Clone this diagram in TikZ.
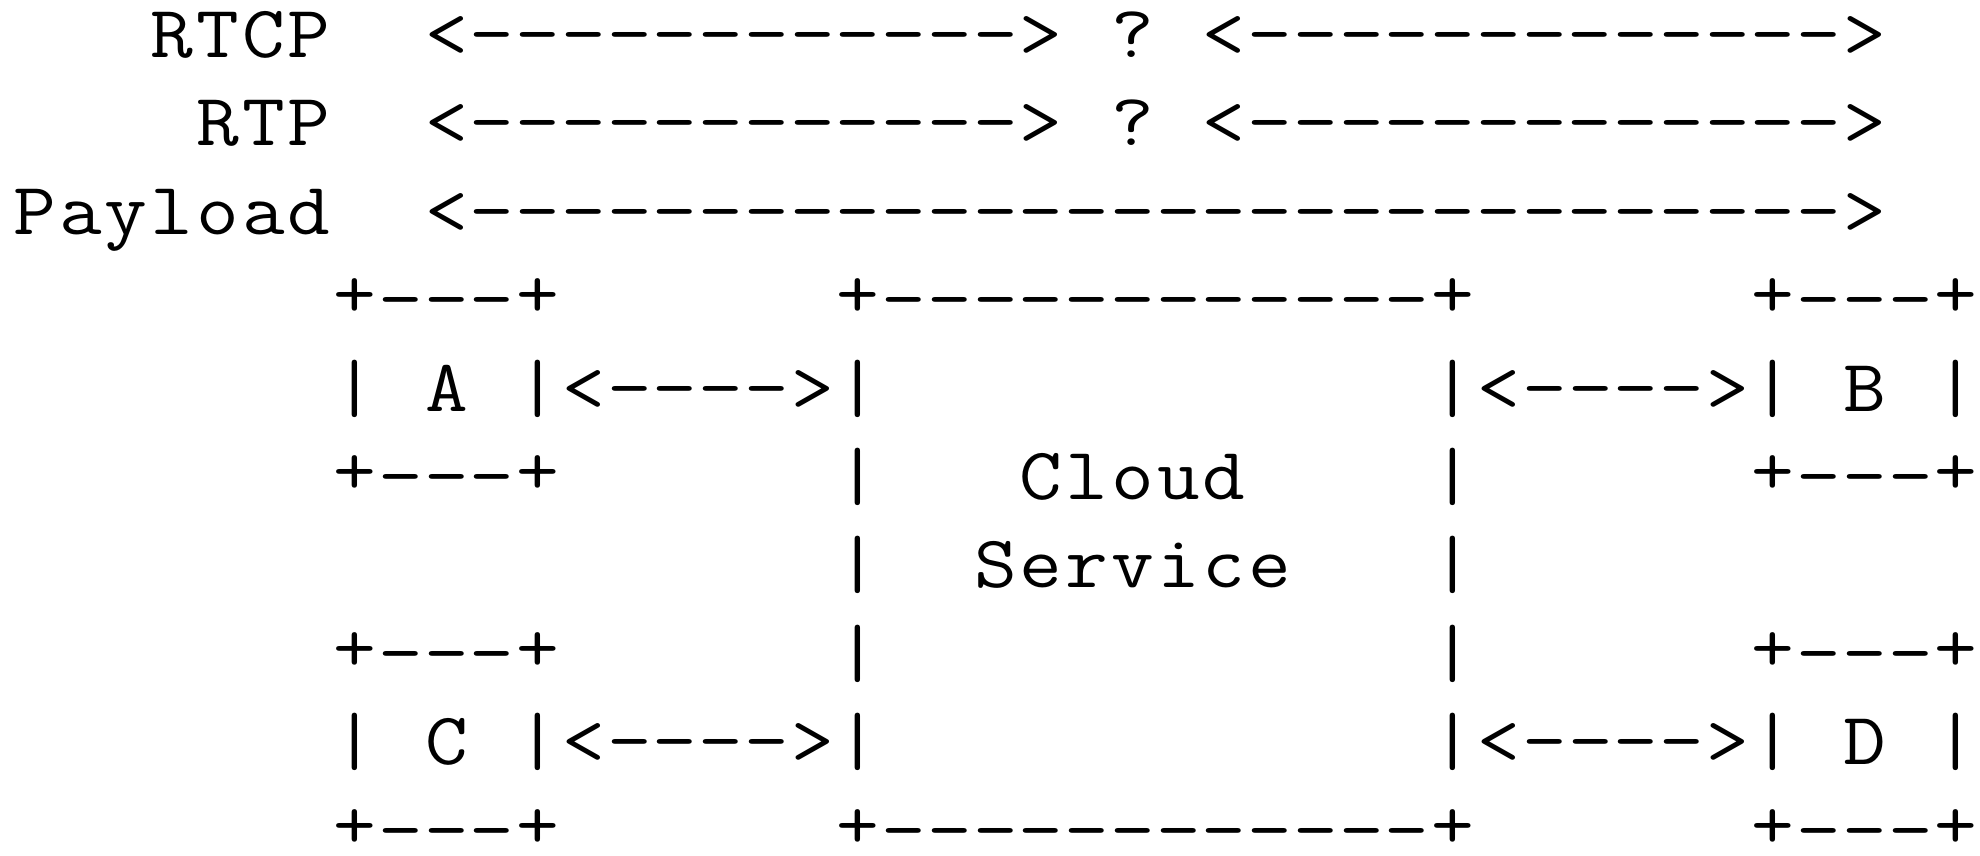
\documentclass[tikz,border=0pt]{standalone}
\usepackage{fontspec}
\usepackage{graphicx}
\newlength\asciicw
\setlength\asciicw{45.75pt}
\def\asciicells#1{\asciicellsloop#1\relax}
\def\asciiglyph#1{%
  \ifx#1-\scalebox{1.17}[1]{-}%
  \else\ifx#1+\raisebox{5pt}{\scalebox{1.12}[1]{+}}%
  \else\scalebox{1.12}[1]{#1}\fi\fi}
\def\asciicellsloop#1{\ifx#1\relax\else\makebox[\asciicw][c]{\asciiglyph{#1}}\expandafter\asciicellsloop\fi}
\tikzset{
  asc/.style={inner sep=0pt, outer sep=0pt, anchor=base west,
    font=\ttfamily\addfontfeatures{FakeBold=3}\fontsize{74}{88}\selectfont, text=black}
}
\newcommand\asciiseg[4]{\node[asc] (#1) at ({11.9+45.75*#2},{57.5+88.4*#3}) {\asciicells{#4}};}
\begin{document}
\begin{tikzpicture}[x=1pt,y=-1pt]
\useasboundingbox (0,0) rectangle (1980,856);
% row 0
\asciiseg{rtcp}{3}{0}{RTCP}
\asciiseg{rtcpL}{9}{0}{<------------>}
\asciiseg{rtcpQ}{24}{0}{?}
\asciiseg{rtcpR}{26}{0}{<------------->}
% row 1
\asciiseg{rtp}{4}{1}{RTP}
\asciiseg{rtpL}{9}{1}{<------------>}
\asciiseg{rtpQ}{24}{1}{?}
\asciiseg{rtpR}{26}{1}{<------------->}
% row 2
\asciiseg{pay}{0}{2}{Payload}
\asciiseg{payA}{9}{2}{<------------------------------>}
% row 3
\asciiseg{aTop}{7}{3}{+---+}
\asciiseg{cTop}{18}{3}{+------------+}
\asciiseg{bTop}{38}{3}{+---+}
% row 4
\asciiseg{aL}{7}{4}{|}
\asciiseg{aT}{9}{4}{A}
\asciiseg{aArr}{11}{4}{|<---->|}
\asciiseg{bArr}{31}{4}{|<---->|}
\asciiseg{bT}{40}{4}{B}
\asciiseg{bR}{42}{4}{|}
% row 5
\asciiseg{aBot}{7}{5}{+---+}
\asciiseg{cL5}{18}{5}{|}
\asciiseg{cloud}{22}{5}{Cloud}
\asciiseg{cR5}{31}{5}{|}
\asciiseg{bBot}{38}{5}{+---+}
% row 6
\asciiseg{cL6}{18}{6}{|}
\asciiseg{service}{21}{6}{Service}
\asciiseg{cR6}{31}{6}{|}
% row 7
\asciiseg{cTopC}{7}{7}{+---+}
\asciiseg{cL7}{18}{7}{|}
\asciiseg{cR7}{31}{7}{|}
\asciiseg{dTop}{38}{7}{+---+}
% row 8
\asciiseg{cLb}{7}{8}{|}
\asciiseg{cT}{9}{8}{C}
\asciiseg{cArr}{11}{8}{|<---->|}
\asciiseg{dArr}{31}{8}{|<---->|}
\asciiseg{dT}{40}{8}{D}
\asciiseg{dR}{42}{8}{|}
% row 9
\asciiseg{cBot}{7}{9}{+---+}
\asciiseg{cloudBot}{18}{9}{+------------+}
\asciiseg{dBot}{38}{9}{+---+}
\end{tikzpicture}
\end{document}
